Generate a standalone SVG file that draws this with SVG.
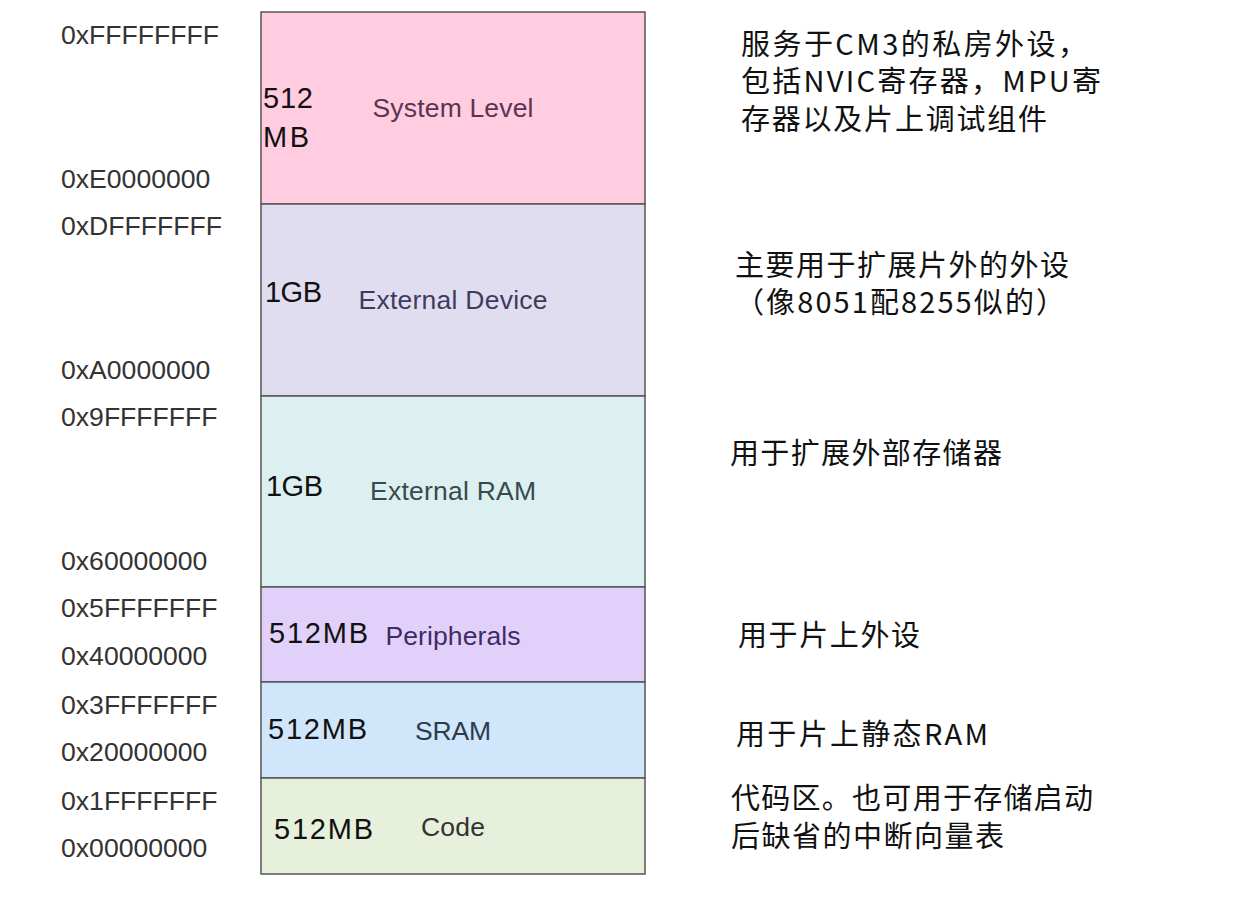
<svg xmlns="http://www.w3.org/2000/svg" width="1234" height="897" viewBox="0 0 1234 897">
<style>
.blk{stroke:#555;stroke-width:1.5}
.addr{font-family:"Liberation Sans",Arial,sans-serif;font-size:26.6px;fill:#333}
.size{font-family:"Liberation Sans",Arial,sans-serif;font-size:29px;fill:#111}
.lbl{font-family:"Liberation Sans",Arial,sans-serif;font-size:26.5px;text-anchor:middle}
.note{font-family:"Noto Sans CJK SC","Noto Sans",sans-serif;font-size:29px;fill:#111}
</style>
<rect width="1234" height="897" fill="#fff"/>
<g id="addresses">
<text class="addr" x="61" y="44">0xFFFFFFFF</text>
<text class="addr" x="61" y="188">0xE0000000</text>
<text class="addr" x="61" y="235">0xDFFFFFFF</text>
<text class="addr" x="61" y="379">0xA0000000</text>
<text class="addr" x="61" y="426">0x9FFFFFFF</text>
<text class="addr" x="61" y="570">0x60000000</text>
<text class="addr" x="61" y="617">0x5FFFFFFF</text>
<text class="addr" x="61" y="665">0x40000000</text>
<text class="addr" x="61" y="714">0x3FFFFFFF</text>
<text class="addr" x="61" y="761">0x20000000</text>
<text class="addr" x="61" y="810">0x1FFFFFFF</text>
<text class="addr" x="61" y="857">0x00000000</text>
</g>
<g id="system-level">
<rect class="blk" x="261" y="12" width="384" height="192" fill="#FFCCE0"/>
<text class="size" x="263" y="108" textLength="50">512</text>
<text class="size" x="263" y="147" textLength="46">MB</text>
<text class="lbl" x="453" y="117" fill="#5a3452" textLength="161">System Level</text>
</g>
<g id="external-device">
<rect class="blk" x="261" y="204" width="384" height="192" fill="#E1DDF0"/>
<text class="size" x="265" y="302" textLength="57">1GB</text>
<text class="lbl" x="453" y="309" fill="#3e3c5e" textLength="189">External Device</text>
</g>
<g id="external-ram">
<rect class="blk" x="261" y="396" width="384" height="191" fill="#DCF0F2"/>
<text class="size" x="266" y="496" textLength="57">1GB</text>
<text class="lbl" x="453" y="500" fill="#3a4a4c" textLength="166">External RAM</text>
</g>
<g id="peripherals">
<rect class="blk" x="261" y="587" width="384" height="95" fill="#E1D0FA"/>
<text class="size" x="269" y="643" textLength="99">512MB</text>
<text class="lbl" x="453" y="645" fill="#3c2c66" textLength="135">Peripherals</text>
</g>
<g id="sram">
<rect class="blk" x="261" y="682" width="384" height="96" fill="#D0E6FA"/>
<text class="size" x="268" y="739" textLength="99">512MB</text>
<text class="lbl" x="453" y="740" fill="#2c3c4e" textLength="76">SRAM</text>
</g>
<g id="code">
<rect class="blk" x="261" y="778" width="384" height="96" fill="#E6F0DA"/>
<text class="size" x="274" y="839" textLength="99">512MB</text>
<text class="lbl" x="453" y="836" fill="#333" textLength="64">Code</text>
</g>
<g id="notes">
<text class="note" x="741" y="55" textLength="346">服务于CM3的私房外设，</text>
<text class="note" x="741" y="92" textLength="360">包括NVIC寄存器，MPU寄</text>
<text class="note" x="741" y="130" textLength="306">存器以及片上调试组件</text>
<text class="note" x="735" y="276" textLength="334">主要用于扩展片外的外设</text>
<text class="note" x="735" y="313" textLength="330">（像8051配8255似的）</text>
<text class="note" x="730" y="464" textLength="272">用于扩展外部存储器</text>
<text class="note" x="738" y="646" textLength="182">用于片上外设</text>
<text class="note" x="736" y="745" textLength="252">用于片上静态RAM</text>
<text class="note" x="731" y="809" textLength="362">代码区。也可用于存储启动</text>
<text class="note" x="731" y="847" textLength="273">后缺省的中断向量表</text>
</g>
</svg>
